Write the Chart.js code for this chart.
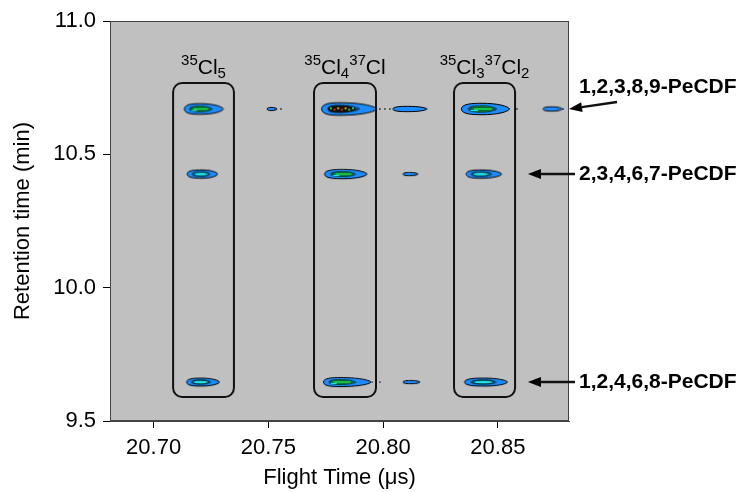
<!DOCTYPE html>
<html>
<head>
<meta charset="utf-8">
<script src="https://cdn.jsdelivr.net/npm/chart.js@4"></script>
<style>
  html, body { margin: 0; padding: 0; background: #fff; }
  #wrap { width: 739px; height: 492px; }
</style>
</head>
<body>
<div id="wrap"><canvas id="graficoGCTOF"></canvas></div>
<script>
// dados
const rowTimes = [10.670, 10.426, 9.646];            // retention time (min) of each congener
const peakNames = ['1,2,3,8,9-PeCDF', '2,3,4,6,7-PeCDF', '1,2,4,6,8-PeCDF'];

// peaks: flight time (us), row index, intensity level (1..4)
const peakFlight = [20.7202, 20.7512, 20.7812, 20.8108, 20.8431, 20.8736,
                    20.7211, 20.7825, 20.8117, 20.8427,
                    20.7207, 20.7812, 20.8122, 20.8440];
const peakRow    = [0, 0, 0, 0, 0, 0, 1, 1, 1, 1, 2, 2, 2, 2];
const peakLevel  = [3, 1, 4, 1, 3, 1, 2, 3, 1, 2, 2, 3, 1, 2];
// peak extent in axis units (left / right of apex in us, half height in min)
const peakLeft   = [.0068, .0017, .0080, .0065, .0090, .0039, .0065, .0080, .0030, .0065, .0063, .0072, .0035, .0085];
const peakRight  = [.0102, .0026, .0160, .0083, .0120, .0044, .0068, .0105, .0035, .0090, .0080, .0135, .0039, .0102];
const peakHalfH  = [.020, .0060, .0235, .0100, .0215, .0080, .0155, .0175, .0060, .0155, .0150, .0170, .0060, .0150];

// traços de ruído
const noiseFlight = [20.7555, 20.7986, 20.8008, 20.8030, 20.8583, 20.8784, 20.7952, 20.7970, 20.7986];
const noiseRow    = [0, 0, 0, 0, 0, 0, 2, 2, 2];

// isotope cluster boxes
const boxLeft  = [20.7085, 20.7699, 20.8309];
const boxRight = [20.7350, 20.7969, 20.8575];
const boxTop = 10.7675;
const boxBottom = 9.59;
const boxLabels = [
    ['^35', 'Cl', '_5'],
    ['^35', 'Cl', '_4', '^37', 'Cl'],
    ['^35', 'Cl', '_3', '^37', 'Cl', '_2']
];
const arrowTip = [20.881, 20.8631, 20.8631];

const xTicks = [20.70, 20.75, 20.80, 20.85];
const yTicks = [9.5, 10.0, 10.5, 11.0];

const FONTE = '"Liberation Sans", Arial, sans-serif';

function caminhoPico(g, cx, cy, l, r, h) {
    g.beginPath();
    g.moveTo(cx - l, cy);
    g.bezierCurveTo(cx - l, cy - h * 0.95, cx - l * 0.4, cy - h, cx, cy - h);
    g.bezierCurveTo(cx + r * 0.55, cy - h, cx + r * 0.95, cy - h * 0.5, cx + r, cy);
    g.bezierCurveTo(cx + r * 0.95, cy + h * 0.5, cx + r * 0.55, cy + h, cx, cy + h);
    g.bezierCurveTo(cx - l * 0.4, cy + h, cx - l, cy + h * 0.95, cx - l, cy);
    g.closePath();
}

// desenha o pico como uma imagem de contornos
function imagemPico(chart, i) {
    const xs = chart.scales.x, ys = chart.scales.y;
    const kx = xs.width / (xs.max - xs.min);
    const ky = ys.height / (ys.max - ys.min);
    const l = peakLeft[i] * kx, r = peakRight[i] * kx, h = peakHalfH[i] * ky;
    const c = document.createElement('canvas');
    c.width = Math.ceil(2 * Math.max(l, r) + 4);
    c.height = Math.ceil(2 * h + 4);
    const g = c.getContext('2d');
    const cx = c.width / 2, cy = c.height / 2;
    const lv = peakLevel[i];

    g.lineWidth = 1;
    g.strokeStyle = '#000';
    g.fillStyle = '#1e8cff';
    caminhoPico(g, cx, cy, l, r, h);
    g.fill();
    g.stroke();

    if (lv >= 2) {
        g.fillStyle = '#0b4f7a';
        caminhoPico(g, cx, cy, l * 0.7, r * 0.55, h * 0.66);
        g.fill();
        g.fillStyle = '#20e8f0';
        caminhoPico(g, cx, cy, l * 0.55, r * 0.42, h * 0.45);
        g.fill();
        g.lineWidth = 0.8;
        g.stroke();
    }
    if (lv >= 3) {
        g.fillStyle = lv >= 4 ? '#062a1a' : '#0c6a3a';
        caminhoPico(g, cx, cy, l * 0.55, r * 0.45, h * 0.55);
        g.fill();
        g.strokeStyle = '#20ff50';
        g.lineWidth = 1.2;
        g.beginPath();
        g.moveTo(cx - l * 0.4, cy);
        g.lineTo(cx + r * 0.35, cy);
        g.stroke();
        g.strokeStyle = '#20e8f0';
        g.beginPath();
        g.moveTo(cx - l * 0.55, cy + 1.5);
        g.lineTo(cx - l * 0.2, cy + 1.5);
        g.stroke();
    }
    if (lv >= 4) {
        g.fillStyle = '#111';
        caminhoPico(g, cx, cy, l * 0.65, r * 0.4, h * 0.6);
        g.fill();
        const cores = ['#30ff30', '#ff3000', '#ffe000', '#ff3000', '#ffe000', '#30ff30', '#20e8f0'];
        for (let k = 0; k < cores.length; k++) {
            g.fillStyle = cores[k];
            g.fillRect(cx - l * 0.55 + k * (l * 0.8 + r * 0.3) / cores.length, cy - 1.5 + (k % 2) * 1.5, 2, 1.5);
        }
    }
    return c;
}

// fundo cinza e moldura
const fundo = {
    id: 'fundo',
    beforeDraw(chart) {
        const { ctx, chartArea: a } = chart;
        ctx.save();
        ctx.fillStyle = '#fff';
        ctx.fillRect(0, 0, chart.width, chart.height);
        ctx.fillStyle = '#c0c0c0';
        ctx.fillRect(a.left, a.top, a.right - a.left, a.bottom - a.top);
        ctx.strokeStyle = '#444';
        ctx.lineWidth = 1;
        ctx.strokeRect(a.left + 0.5, a.top + 0.5, a.right - a.left - 1, a.bottom - a.top - 1);
        ctx.restore();
    }
};

function desenharFormula(ctx, partes, cx, base) {
    const medidas = partes.map(p => {
        const pequeno = p[0] === '^' || p[0] === '_';
        ctx.font = (pequeno ? '15px ' : '21px ') + FONTE;
        const t = pequeno ? p.slice(1) : p;
        return { t: t, f: ctx.font, w: ctx.measureText(t).width, dy: p[0] === '^' ? -9 : (p[0] === '_' ? 4 : 0) };
    });
    let x = cx - medidas.reduce((s, m) => s + m.w, 0) / 2;
    medidas.forEach(m => {
        ctx.font = m.f;
        ctx.fillText(m.t, x, base + m.dy);
        x += m.w;
    });
}

// caixas, rótulos e setas
const anotacoes = {
    id: 'anotacoes',
    afterDatasetsDraw(chart) {
        const { ctx, scales: { x, y }, chartArea: a } = chart;
        ctx.save();
        ctx.strokeStyle = '#111';
        ctx.lineWidth = 2;
        ctx.fillStyle = '#000';
        ctx.textAlign = 'left';
        ctx.textBaseline = 'alphabetic';
        for (let i = 0; i < boxLeft.length; i++) {
            const x0 = x.getPixelForValue(boxLeft[i]), x1 = x.getPixelForValue(boxRight[i]);
            const y0 = y.getPixelForValue(boxTop), y1 = y.getPixelForValue(boxBottom);
            ctx.beginPath();
            ctx.roundRect(x0, y0, x1 - x0, y1 - y0, 9);
            ctx.stroke();
            desenharFormula(ctx, boxLabels[i], (x0 + x1) / 2, y0 - 9);
        }

        ctx.lineWidth = 2.5;
        ctx.font = 'bold 21px ' + FONTE;
        ctx.textBaseline = 'middle';
        for (let i = 0; i < rowTimes.length; i++) {
            const yp = y.getPixelForValue(rowTimes[i]);
            const tx = x.getPixelForValue(arrowTip[i]);
            let ex, ey, ly;
            if (i === 0) { ex = a.right + 48; ey = yp - 7; ly = yp - 22; }
            else { ex = a.right + 6; ey = yp; ly = yp; }
            const ang = Math.atan2(ey - yp, ex - tx);
            const hx = tx + 13 * Math.cos(ang), hy = yp + 13 * Math.sin(ang);
            ctx.beginPath();
            ctx.moveTo(hx, hy);
            ctx.lineTo(ex, ey);
            ctx.stroke();
            ctx.beginPath();
            ctx.moveTo(tx, yp);
            ctx.lineTo(hx - 5 * Math.sin(ang), hy + 5 * Math.cos(ang));
            ctx.lineTo(hx + 5 * Math.sin(ang), hy - 5 * Math.cos(ang));
            ctx.closePath();
            ctx.fill();
            ctx.fillText(peakNames[i], a.right + 10, ly);
        }
        ctx.restore();
    }
};

function criarGrafico(canvasID) {
    const ctx = document.getElementById(canvasID).getContext('2d');

    new Chart(ctx, {
        type: 'scatter',
        data: {
            datasets: [{
                label: 'picos',
                data: peakFlight.map((v, i) => ({ x: v, y: rowTimes[peakRow[i]] })),
                pointRadius: 1,
                pointStyle: function(c) {
                    if (c.type !== 'data') return 'circle';
                    return imagemPico(c.chart, c.dataIndex);
                }
            }, {
                label: 'ruido',
                data: noiseFlight.map((v, i) => ({ x: v, y: rowTimes[noiseRow[i]] })),
                pointRadius: 0.9,
                pointStyle: 'rect',
                backgroundColor: '#000',
                borderColor: '#000',
                borderWidth: 0
            }]
        },
        options: {
            responsive: true,
            maintainAspectRatio: false,
            animation: false,
            events: [],
            layout: { padding: { top: 21, right: 170, left: 0, bottom: 0 } },
            plugins: {
                legend: { display: false },
                tooltip: { enabled: false }
            },
            scales: {
                x: {
                    type: 'linear',
                    min: 20.681,
                    max: 20.881,
                    afterBuildTicks: s => { s.ticks = xTicks.map(v => ({ value: v })); },
                    afterFit: s => { s.height = 71; },
                    grid: { drawOnChartArea: false, tickLength: 7, tickColor: '#000', tickWidth: 1 },
                    border: { color: '#444' },
                    ticks: {
                        padding: 7,
                        color: '#000',
                        font: { family: FONTE, size: 22 },
                        callback: v => v.toFixed(2)
                    },
                    title: {
                        display: true,
                        text: 'Flight Time (μs)',
                        color: '#000',
                        font: { family: FONTE, size: 22 },
                        padding: { top: 0, bottom: 1 }
                    }
                },
                y: {
                    type: 'linear',
                    min: 9.5,
                    max: 11.0,
                    afterBuildTicks: s => { s.ticks = yTicks.map(v => ({ value: v })); },
                    afterFit: s => { s.width = 110; },
                    grid: { drawOnChartArea: false, tickLength: 7, tickColor: '#000', tickWidth: 1 },
                    border: { color: '#444' },
                    ticks: {
                        padding: 7,
                        color: '#000',
                        font: { family: FONTE, size: 22 },
                        callback: v => v.toFixed(1)
                    },
                    title: {
                        display: true,
                        text: 'Retention time (min)',
                        color: '#000',
                        font: { family: FONTE, size: 22 },
                        padding: { top: 10, bottom: 0 }
                    }
                }
            }
        },
        plugins: [fundo, anotacoes]
    });
}

criarGrafico('graficoGCTOF');
</script>
</body>
</html>
